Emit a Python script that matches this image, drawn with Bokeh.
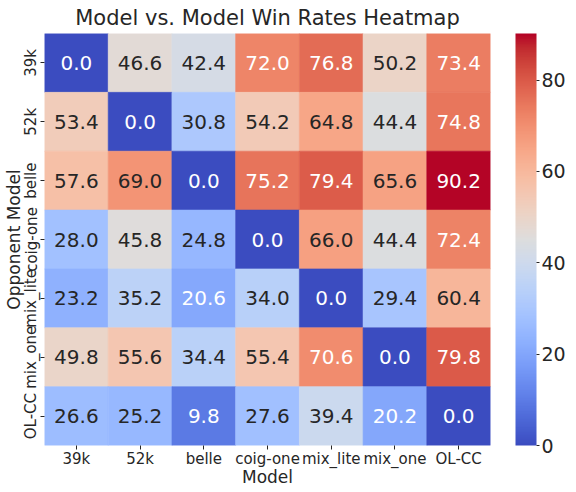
import numpy as np
from bokeh.plotting import figure
from bokeh.models import (ColumnDataSource, LinearColorMapper, ColorBar, FixedTicker,
                          FactorRange, CategoricalAxis)
from bokeh.transform import transform
from bokeh.core.properties import value
from bokeh.embed import file_html
from bokeh.resources import INLINE

# ---- data ----
models = ["39k", "52k", "belle", "coig-one", "mix_lite", "mix_one", "OL-CC"]
opponents = ["39k", "52k", "belle", "coig-one", "mix_lite", "mix_one", "OL-CC"]
row_39k = [0.0, 46.6, 42.4, 72.0, 76.8, 50.2, 73.4]
row_52k = [53.4, 0.0, 30.8, 54.2, 64.8, 44.4, 74.8]
row_belle = [57.6, 69.0, 0.0, 75.2, 79.4, 65.6, 90.2]
row_coig_one = [28.0, 45.8, 24.8, 0.0, 66.0, 44.4, 72.4]
row_mix_lite = [23.2, 35.2, 20.6, 34.0, 0.0, 29.4, 60.4]
row_mix_one = [49.8, 55.6, 34.4, 55.4, 70.6, 0.0, 79.8]
row_ol_cc = [26.6, 25.2, 9.8, 27.6, 39.4, 20.2, 0.0]
rows = [row_39k, row_52k, row_belle, row_coig_one, row_mix_lite, row_mix_one, row_ol_cc]
cbar_ticks = [0, 20, 40, 60, 80]

# ---- coolwarm palette (Moreland table) ----
cw = [
    (59, 76, 192), (68, 90, 204), (77, 104, 215), (87, 117, 225), (98, 130, 234),
    (108, 142, 241), (119, 154, 247), (130, 165, 251), (141, 176, 254), (152, 185, 255),
    (163, 194, 255), (174, 201, 253), (184, 208, 249), (194, 213, 244), (204, 217, 238),
    (213, 219, 230), (221, 221, 221), (229, 216, 209), (236, 211, 197), (241, 204, 185),
    (245, 196, 173), (247, 187, 160), (247, 177, 148), (247, 166, 135), (244, 154, 123),
    (241, 141, 111), (236, 127, 99), (229, 112, 88), (222, 96, 77), (213, 80, 66),
    (203, 62, 56), (192, 40, 47), (180, 4, 38),
]
cw = np.array(cw, dtype=float)
kx = np.linspace(0, 1, len(cw))
tx = np.linspace(0, 1, 256)
pal_rgb = np.stack([np.interp(tx, kx, cw[:, i]) for i in range(3)], axis=1)
palette = ["#%02x%02x%02x" % tuple(int(round(c)) for c in rgb) for rgb in pal_rgb]

all_vals = [v for r in rows for v in r]
vmin, vmax = min(all_vals), max(all_vals)

def text_color(v):
    f = (v - vmin) / (vmax - vmin)
    idx = min(255, max(0, int(f * 255.999)))
    rgb = pal_rgb[idx] / 255.0
    rgb = np.where(rgb <= 0.03928, rgb / 12.92, ((rgb + 0.055) / 1.055) ** 2.4)
    lum = 0.2126 * rgb[0] + 0.7152 * rgb[1] + 0.0722 * rgb[2]
    return "#262626" if lum > 0.408 else "#ffffff"

xs, ys, vals, labels, tcols = [], [], [], [], []
for opp, r in zip(opponents, rows):
    for m, v in zip(models, r):
        xs.append(m)
        ys.append(opp)
        vals.append(v)
        labels.append(f"{v:.1f}")
        tcols.append(text_color(v))
src = ColumnDataSource(dict(x=xs, y=ys, v=vals, label=labels, tc=tcols))

mapper = LinearColorMapper(palette=palette, low=vmin, high=vmax)

FONT = "DejaVu Sans"
DARK = "#262626"

p = figure(frame_width=446, frame_height=412, x_range=FactorRange(factors=models),
           y_range=FactorRange(factors=list(reversed(opponents))),
           output_backend="svg", toolbar_location=None,
           title="Model vs. Model Win Rates Heatmap",
           min_border_left=0, min_border_top=0, min_border_right=0, min_border_bottom=0)

p.rect(x="x", y="y", width=1, height=1, source=src,
       fill_color=transform("v", mapper), line_color=transform("v", mapper), line_width=0.6)
p.text(x="x", y="y", text="label", source=src, text_color="tc",
       text_align="center", text_baseline="middle",
       text_font=value(FONT), text_font_size="20px")

p.title.text_font = FONT
p.title.text_font_size = "21px"
p.title.text_font_style = "normal"
p.title.text_color = DARK
p.title.align = "center"
p.title.standoff = 7

p.outline_line_color = None
p.grid.grid_line_color = None
for ax in (p.xaxis[0], p.yaxis[0]):
    ax.axis_line_color = None
    ax.major_tick_line_color = DARK
    ax.major_tick_in = 0
    ax.major_tick_out = 4
    ax.major_label_text_font = FONT
    ax.major_label_text_font_size = "15px"
    ax.major_label_text_color = DARK
    ax.axis_label_text_font = FONT
    ax.axis_label_text_font_size = "17px"
    ax.axis_label_text_font_style = "normal"
    ax.axis_label_text_color = DARK
    ax.major_label_standoff = 0
    ax.axis_label_standoff = -4
p.xaxis.axis_label = "Model"
p.yaxis.axis_label = "Opponent Model"
p.yaxis.major_label_orientation = "vertical"

# invisible spacer between heatmap and colour bar
spacer = CategoricalAxis(axis_line_color=None, major_tick_line_color=None,
                         minor_tick_line_color=None, major_tick_in=0, major_tick_out=25,
                         major_label_standoff=0, major_label_text_font_size="0px",
                         major_label_text_alpha=0)
p.add_layout(spacer, "right")

cb = ColorBar(color_mapper=mapper, ticker=FixedTicker(ticks=cbar_ticks), width=21,
              padding=0, margin=0, bar_line_color=None, border_line_color=None,
              major_tick_in=0, major_tick_out=3, major_tick_line_color=DARK,
              major_label_text_font=FONT, major_label_text_font_size="19px",
              major_label_text_color=DARK, label_standoff=2, background_fill_color=None)
p.add_layout(cb, "right")

open("out.html", "w").write(file_html(p, INLINE))
